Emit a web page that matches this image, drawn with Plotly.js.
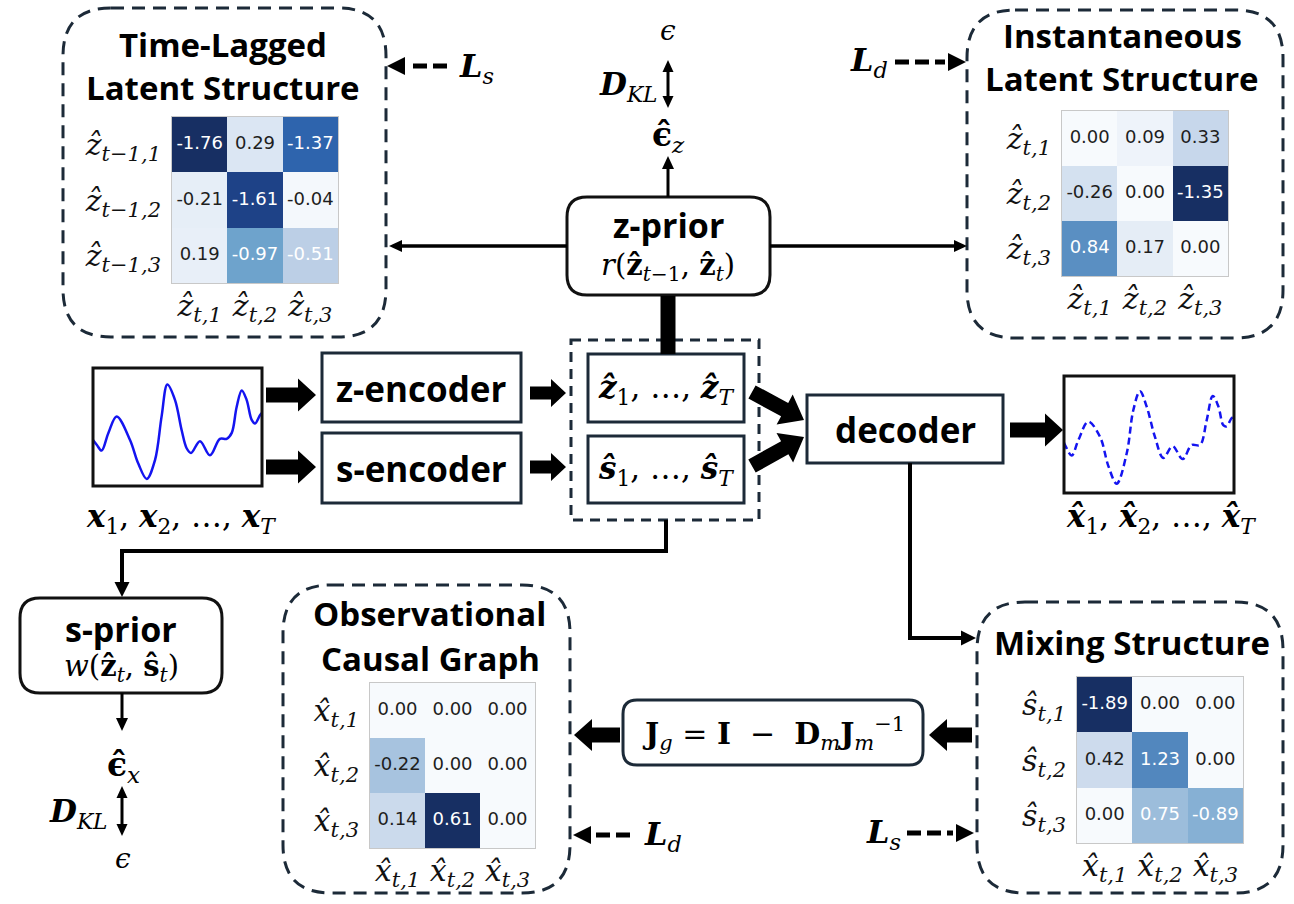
<!DOCTYPE html>
<html><head><meta charset="utf-8">
<script src="https://cdn.plot.ly/plotly-3.0.1.min.js"></script>
<style>body{margin:0;background:#fff}#chart{width:1294px;height:904px}</style>
</head><body><div id="chart"></div>
<script>
// ---------- DATA ----------
const lagRowLabels = ["ẑ<sub>t−1,1</sub>", "ẑ<sub>t−1,2</sub>", "ẑ<sub>t−1,3</sub>"];
const lagColLabels = ["ẑ<sub>t,1</sub>", "ẑ<sub>t,2</sub>", "ẑ<sub>t,3</sub>"];
const lagValues = [[-1.76, 0.29, -1.37], [-0.21, -1.61, -0.04], [0.19, -0.97, -0.51]];

const instRowLabels = ["ẑ<sub>t,1</sub>", "ẑ<sub>t,2</sub>", "ẑ<sub>t,3</sub>"];
const instColLabels = ["ẑ<sub>t,1</sub>", "ẑ<sub>t,2</sub>", "ẑ<sub>t,3</sub>"];
const instValues = [[0.00, 0.09, 0.33], [-0.26, 0.00, -1.35], [0.84, 0.17, 0.00]];

const obsRowLabels = ["x̂<sub>t,1</sub>", "x̂<sub>t,2</sub>", "x̂<sub>t,3</sub>"];
const obsColLabels = ["x̂<sub>t,1</sub>", "x̂<sub>t,2</sub>", "x̂<sub>t,3</sub>"];
const obsValues = [[0.00, 0.00, 0.00], [-0.22, 0.00, 0.00], [0.14, 0.61, 0.00]];

const mixRowLabels = ["ŝ<sub>t,1</sub>", "ŝ<sub>t,2</sub>", "ŝ<sub>t,3</sub>"];
const mixColLabels = ["x̂<sub>t,1</sub>", "x̂<sub>t,2</sub>", "x̂<sub>t,3</sub>"];
const mixValues = [[-1.89, 0.00, 0.00], [0.42, 1.23, 0.00], [0.00, 0.75, -0.89]];

const inputT = [0, 2.2, 5.1, 9.1, 14.0, 21.9, 26.8, 31.8, 36.7, 40.6, 44.0, 48.5, 52.5, 55.4, 58.0, 63.3, 69.2, 75.1, 79.1, 82.1, 85.0, 88.0, 90.9, 93.9, 95.9, 98.8, 100];
const inputV = [0.39, 0.35, 0.30, 0.45, 0.59, 0.39, 0.19, 0.06, 0.22, 0.59, 0.86, 0.73, 0.47, 0.32, 0.28, 0.38, 0.26, 0.40, 0.40, 0.45, 0.67, 0.81, 0.73, 0.56, 0.53, 0.60, 0.62];
const outputT = [0, 0.6, 4.5, 8.4, 14.3, 21.2, 26.1, 31.0, 36.9, 40.8, 44.7, 48.6, 53.5, 58.4, 63.9, 69.8, 75.1, 80.0, 83.9, 87.5, 90.8, 93.7, 95.7, 98.6, 100];
const outputV = [0.43, 0.41, 0.32, 0.45, 0.61, 0.48, 0.23, 0.08, 0.34, 0.71, 0.87, 0.74, 0.48, 0.30, 0.40, 0.29, 0.41, 0.41, 0.62, 0.83, 0.74, 0.58, 0.57, 0.64, 0.65];

// ---------- HELPERS ----------
const W = 1294, H = 904;
const dx = (a, b) => [a / W, b / W];
const dy = (a, b) => [1 - b / H, 1 - a / H];
const NAVY = '#1c2a38';
const SANS = 'Open Sans';
const SERIF = 'DejaVu Serif';

const blues = [[0, '#f7fafd'], [0.12, '#e6eef7'], [0.29, '#bccfe6'], [0.55, '#6ea3cc'], [0.78, '#2e64ad'], [0.915, '#1e4287'], [1, '#172f63']];

const traces = [];
const layout = {
  width: W, height: H, margin: {l: 0, r: 0, t: 0, b: 0},
  paper_bgcolor: '#fff', plot_bgcolor: 'rgba(0,0,0,0)', showlegend: false,
  xaxis: {range: [0, W], domain: [0, 1], visible: false, fixedrange: true},
  yaxis: {range: [H, 0], domain: [0, 1], visible: false, fixedrange: true},
  shapes: [], annotations: []
};

function heat(idx, vals, rowL, colL, x0, y0, x1, y1) {
  const xa = 'x' + idx, ya = 'y' + idx;
  const mx = Math.max(...vals.flat().map(Math.abs));
  traces.push({type: 'heatmap', xaxis: xa, yaxis: ya, x: [0, 1, 2], y: [0, 1, 2],
    z: vals.map(r => r.map(v => Math.abs(v) / mx)), zmin: 0, zmax: 1,
    colorscale: blues, showscale: false, hoverinfo: 'skip', xgap: 0, ygap: 0});
  const tx = [], ty = [], tt = [], tc = [];
  vals.forEach((r, i) => r.forEach((v, j) => {
    tx.push(j); ty.push(i); tt.push(v.toFixed(2)); tc.push(Math.abs(v) >= 0.5 ? '#ffffff' : '#1e1e1e');
  }));
  traces.push({type: 'scatter', mode: 'text', xaxis: xa, yaxis: ya, x: tx, y: ty, text: tt,
    textfont: {family: 'DejaVu Sans', size: 18, color: tc}, hoverinfo: 'skip'});
  const tf = {family: SERIF, size: 30, color: '#111', style: 'italic'};
  layout['xaxis' + idx] = {domain: dx(x0, x1), anchor: ya, range: [-0.5, 2.5], tickvals: [0, 1, 2], ticktext: colL,
    showgrid: false, zeroline: false, showline: true, mirror: true, linecolor: '#c8c8c8', linewidth: 1,
    ticks: '', tickfont: tf, ticklabelstandoff: -4, fixedrange: true};
  layout['yaxis' + idx] = {domain: dy(y0, y1), anchor: xa, range: [2.5, -0.5], tickvals: [0, 1, 2], ticktext: rowL,
    showgrid: false, zeroline: false, showline: true, mirror: true, linecolor: '#c8c8c8', linewidth: 1,
    ticks: '', tickfont: tf, ticklabelstandoff: 4, fixedrange: true};
}

function signal(idx, t, v, x0, y0, x1, y1, dash) {
  const xa = 'x' + idx, ya = 'y' + idx;
  traces.push({type: 'scatter', mode: 'lines', xaxis: xa, yaxis: ya, x: t, y: v,
    line: {color: '#1414f0', width: 2.5, shape: 'spline', smoothing: 1, dash: dash}, hoverinfo: 'skip', cliponaxis: true});
  layout['xaxis' + idx] = {domain: dx(x0, x1), anchor: ya, range: [0, 100], visible: false, fixedrange: true};
  layout['yaxis' + idx] = {domain: dy(y0, y1), anchor: xa, range: [0, 1], visible: false, fixedrange: true};
  rect(x0, y0, x1, y1, '#111', 3);
}

function shape(s) { layout.shapes.push(Object.assign({xref: 'x', yref: 'y'}, s)); }
function rect(x0, y0, x1, y1, c, w, dash) {
  shape({type: 'rect', x0, y0, x1, y1, line: {color: c, width: w, dash: dash || 'solid'}, fillcolor: 'rgba(0,0,0,0)'});
}
function rrect(x0, y0, x1, y1, r, c, w, dash) {
  const p = `M${x0 + r},${y0} L${x1 - r},${y0} Q${x1},${y0} ${x1},${y0 + r} L${x1},${y1 - r} Q${x1},${y1} ${x1 - r},${y1} ` +
    `L${x0 + r},${y1} Q${x0},${y1} ${x0},${y1 - r} L${x0},${y0 + r} Q${x0},${y0} ${x0 + r},${y0} Z`;
  shape({type: 'path', path: p, line: {color: c, width: w, dash: dash || 'solid'}, fillcolor: 'rgba(0,0,0,0)'});
}
function poly(pts, c) {
  shape({type: 'path', path: 'M' + pts.map(p => p[0].toFixed(1) + ',' + p[1].toFixed(1)).join(' L') + ' Z',
    fillcolor: c || '#000', line: {width: 0}});
}
function fatArrow(x0, y0, x1, y1, sw, hw, hl) {
  const L = Math.hypot(x1 - x0, y1 - y0), ux = (x1 - x0) / L, uy = (y1 - y0) / L, nx = -uy, ny = ux;
  const bx = x1 - ux * hl, by = y1 - uy * hl;
  poly([[x0 + nx * sw / 2, y0 + ny * sw / 2], [bx + nx * sw / 2, by + ny * sw / 2], [bx + nx * hw / 2, by + ny * hw / 2],
    [x1, y1], [bx - nx * hw / 2, by - ny * hw / 2], [bx - nx * sw / 2, by - ny * sw / 2], [x0 - nx * sw / 2, y0 - ny * sw / 2]]);
}
function head(xb, yb, x1, y1, hl, hw) {
  const L = Math.hypot(x1 - xb, y1 - yb), ux = (x1 - xb) / L, uy = (y1 - yb) / L, nx = -uy, ny = ux;
  const bx = x1 - ux * hl, by = y1 - uy * hl;
  poly([[x1, y1], [bx + nx * hw / 2, by + ny * hw / 2], [bx - nx * hw / 2, by - ny * hw / 2]]);
  return [bx + ux * 1, by + uy * 1];
}
function lineArrow(pts, w, dash, hl, hw, both, gap) {
  hl = hl || 13; hw = hw || 12; gap = gap || 0;
  const n = pts.length;
  const e = head(pts[n - 2][0], pts[n - 2][1], pts[n - 1][0], pts[n - 1][1], hl, hw);
  const L = Math.hypot(e[0] - pts[n - 2][0], e[1] - pts[n - 2][1]);
  const q = pts.slice();
  q[n - 1] = [e[0] - (e[0] - pts[n - 2][0]) / L * gap, e[1] - (e[1] - pts[n - 2][1]) / L * gap];
  if (both) { q[0] = head(pts[1][0], pts[1][1], pts[0][0], pts[0][1], hl, hw); }
  shape({type: 'path', path: 'M' + q.map(p => p[0] + ',' + p[1]).join(' L'),
    line: {color: '#000', width: w, dash: dash || 'solid'}, fillcolor: 'rgba(0,0,0,0)'});
}
function txt(x, y, text, size, family, opts) {
  layout.annotations.push(Object.assign({xref: 'x', yref: 'y', x, y, text, showarrow: false,
    xanchor: 'center', yanchor: 'middle', font: {family: family, size: size, color: '#000'}}, opts || {}));
}

// ---------- HEATMAPS ----------
heat(2, lagValues, lagRowLabels, lagColLabels, 172, 117, 338, 283);
heat(3, instValues, instRowLabels, instColLabels, 1062, 111, 1228, 276);
heat(4, obsValues, obsRowLabels, obsColLabels, 370, 683, 535, 848);
heat(5, mixValues, mixRowLabels, mixColLabels, 1077, 677, 1243, 843);

// ---------- SIGNALS ----------
signal(6, inputT, inputV, 93, 368, 262, 486, 'solid');
signal(7, outputT, outputV, 1064, 376, 1234, 493, '7px,4px');

// ---------- BOXES ----------
const DASH = '13px,8px';
rrect(63, 8, 386, 337, 48, NAVY, 3, DASH);
rrect(967, 10, 1283, 338, 48, NAVY, 3, DASH);
rrect(283, 585, 570, 893, 48, NAVY, 3, DASH);
rrect(977, 602, 1283, 893, 48, NAVY, 3, DASH);
rect(571, 340, 759, 520, NAVY, 3, '10px,7px');
rect(322, 353, 521, 422, NAVY, 3);
rect(322, 433, 521, 503, NAVY, 3);
rect(588, 354, 744, 422, NAVY, 3);
rect(588, 436, 744, 503, NAVY, 3);
rect(807, 395, 1003, 463, NAVY, 3);
rrect(567, 197, 770, 295, 20, '#111', 3);
rrect(20, 598, 222, 693, 20, '#111', 3);
rrect(623, 700, 923, 765, 14, NAVY, 3);

// ---------- FAT ARROWS ----------
fatArrow(266, 395, 316, 395, 15, 33, 18);
fatArrow(266, 467, 316, 467, 15, 33, 18);
fatArrow(530, 393, 566, 393, 13, 28, 15);
fatArrow(530, 467, 566, 467, 13, 28, 15);
fatArrow(752, 392, 804, 420, 15, 34, 22);
fatArrow(752, 466, 804, 437, 15, 34, 22);
fatArrow(1010, 430, 1063, 430, 15, 33, 18);
fatArrow(620, 735, 574, 735, 15, 32, 18);
fatArrow(972, 735, 929, 735, 15, 32, 18);
shape({type: 'line', x0: 668, y0: 296, x1: 668, y1: 354, line: {color: '#000', width: 15}});

// ---------- THIN ARROWS ----------
lineArrow([[668, 197], [668, 156]], 3);
lineArrow([[668, 60], [668, 108]], 3, null, 12, 11, true);
lineArrow([[567, 246], [389, 246]], 3.5);
lineArrow([[770, 246], [967, 246]], 3.5);
lineArrow([[666, 520], [666, 551], [122, 551], [122, 597]], 4, null, 15, 15);
lineArrow([[122, 693], [122, 731]], 3);
lineArrow([[122, 786], [122, 836]], 3, null, 12, 11, true);
lineArrow([[910, 463], [910, 638], [976, 638]], 4, null, 15, 15);

// dashed arrows
lineArrow([[447, 66], [387, 66]], 5, '14px,6px', 18, 18, false, 4);
lineArrow([[895, 62], [966, 62]], 5, '14px,6px', 18, 18, false, 4);
lineArrow([[630, 835], [573, 835]], 5, '14px,6px', 18, 18, false, 4);
lineArrow([[907, 833], [974, 833]], 5, '14px,6px', 18, 18, false, 4);

// ---------- TEXT ----------
txt(223, 44, '<b>Time-Lagged</b>', 33, SANS);
txt(223, 87, '<b>Latent Structure</b>', 33, SANS);
txt(1122, 35, '<b>Instantaneous</b>', 33, SANS);
txt(1122, 78, '<b>Latent Structure</b>', 33, SANS);
txt(429, 613, '<b>Observational</b>', 33, SANS);
txt(430, 658, '<b>Causal Graph</b>', 33, SANS);
txt(1132, 642, '<b>Mixing Structure</b>', 33, SANS);

txt(421, 388, '<b>z-encoder</b>', 35, SANS);
txt(421, 468, '<b>s-encoder</b>', 35, SANS);
txt(905, 429, '<b>decoder</b>', 35, SANS);
txt(668, 225, '<b>z-prior</b>', 34, SANS);
txt(121, 629, '<b>s-prior</b>', 34, SANS);

txt(668, 267, '<i>r</i>(<b>ẑ</b><sub><i>t</i>−1</sub>, <b>ẑ</b><sub><i>t</i></sub>)', 29, SERIF);
txt(121, 668, '<i>w</i>(<b>ẑ</b><sub><i>t</i></sub>, <b>ŝ</b><sub><i>t</i></sub>)', 29, SERIF);
txt(666, 389, '<b><i>ẑ</i></b><sub>1</sub>, …, <b><i>ẑ</i></b><sub><i>T</i></sub>', 31, SERIF);
txt(666, 470, '<b><i>ŝ</i></b><sub>1</sub>, …, <b><i>ŝ</i></b><sub><i>T</i></sub>', 31, SERIF);
txt(181, 518, '<b><i>x</i></b><sub>1</sub>, <b><i>x</i></b><sub>2</sub>, …, <b><i>x</i></b><sub><i>T</i></sub>', 31, SERIF);
txt(1161, 518, '<b><i>x̂</i></b><sub>1</sub>, <b><i>x̂</i></b><sub>2</sub>, …, <b><i>x̂</i></b><sub><i>T</i></sub>', 31, SERIF);

txt(668, 30, '<i>ϵ</i>', 28, SERIF);
txt(628, 86, '<b><i>D</i></b><sub><i>KL</i></sub>', 31, SERIF);
txt(668, 136, '<b>ϵ̂</b><sub><i>z</i></sub>', 33, SERIF);
txt(123, 766, '<b>ϵ̂</b><sub><i>x</i></sub>', 33, SERIF);
txt(78, 813, '<b><i>D</i></b><sub><i>KL</i></sub>', 31, SERIF);
txt(123, 858, '<i>ϵ</i>', 28, SERIF);

txt(476, 68, '<b><i>L</i></b><sub><i>s</i></sub>', 32, SERIF);
txt(869, 62, '<b><i>L</i></b><sub><i>d</i></sub>', 32, SERIF);
txt(663, 836, '<b><i>L</i></b><sub><i>d</i></sub>', 32, SERIF);
txt(883, 834, '<b><i>L</i></b><sub><i>s</i></sub>', 32, SERIF);

txt(773, 733, '<b>J</b><sub><i>g</i></sub> = <b>I</b>  −  <b>D</b><sub><i>m</i></sub><b>J</b><sub><i>m</i></sub><sup>−1</sup>', 30, SERIF);

Plotly.newPlot('chart', traces, layout, {staticPlot: true, displayModeBar: false});
</script></body></html>
